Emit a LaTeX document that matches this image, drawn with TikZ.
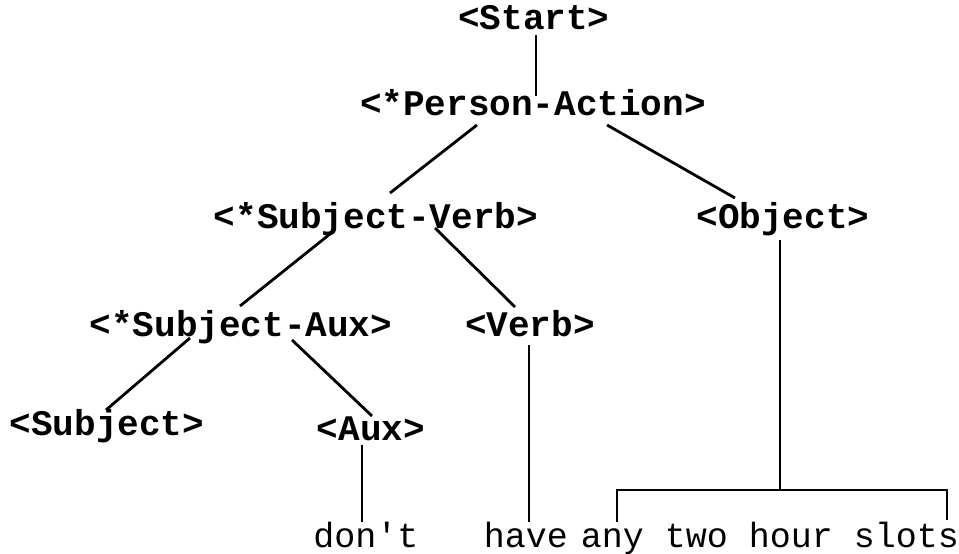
\documentclass[tikz,border=0pt]{standalone}
\usepackage{fontspec}
\setmonofont{Liberation Mono}
\usetikzlibrary{positioning}

\begin{document}
\begin{tikzpicture}[
        x=1pt, y=-1pt,
        % Estilos dos nos
        cat/.style={inner sep=0pt, anchor=base, font=\fontsize{36}{40}\selectfont\ttfamily\bfseries},
        word/.style={inner sep=0pt, anchor=base, font=\fontsize{35}{40}\selectfont\ttfamily},
        % Estilo das ligacoes
        branch/.style={line width=2.8pt, draw=black}
    ]
    \useasboundingbox (0,0) rectangle (959,554);

    % Categorias
    \node[cat] (start) at (534,30) {<Start>};
    \node[cat] (pa) at (533,115) {<*Person-Action>};
    \node[cat] (sv) at (376,228) {<*Subject-Verb>};
    \node[cat] (obj) at (783,228) {<Object>};
    \node[cat] (sa) at (241,336) {<*Subject-Aux>};
    \node[cat] (verb) at (530,336) {<Verb>};
    \node[cat] (subj) at (107,435) {<Subject>};
    \node[cat] (aux) at (371,440) {<Aux>};

    % Palavras
    \node[word] (dont) at (366,547) {don't};
    \node[word] (have) at (526,547) {have};
    \node[word] (slots) at (770,547) {any two hour slots};

    % Ramos
    \draw[branch] ([shift={(2,5)}]start.base) -- ([shift={(3,-19)}]pa.base);
    \draw[branch] ([shift={(-56,10)}]pa.base) -- ([shift={(14,-35)}]sv.base);
    \draw[branch] ([shift={(74,10)}]pa.base) -- ([shift={(-48,-30)}]obj.base);
    \draw[branch] ([shift={(-46,6)}]sv.base) -- ([shift={(-1,-30)}]sa.base);
    \draw[branch] ([shift={(59,0)}]sv.base) -- ([shift={(-15,-29)}]verb.base);
    \draw[branch] ([shift={(-51,2)}]sa.base) -- ([shift={(-1,-25)}]subj.base);
    \draw[branch] ([shift={(51,4)}]sa.base) -- ([shift={(1,-24)}]aux.base);
    \draw[branch] ([shift={(-9,5)}]aux.base) -- ([shift={(-4,-25)}]dont.base);
    \draw[branch] ([shift={(-1,9)}]verb.base) -- ([shift={(3,-25)}]have.base);

    % Chaveta do objecto
    \draw[branch] ([shift={(-3,12)}]obj.base) -- ([shift={(10,-57)}]slots.base);
    \draw[branch] ([shift={(-153,-25)}]slots.base) |- ([shift={(177,-57)}]slots.base) -- ([shift={(177,-27)}]slots.base);

\end{tikzpicture}
\end{document}
